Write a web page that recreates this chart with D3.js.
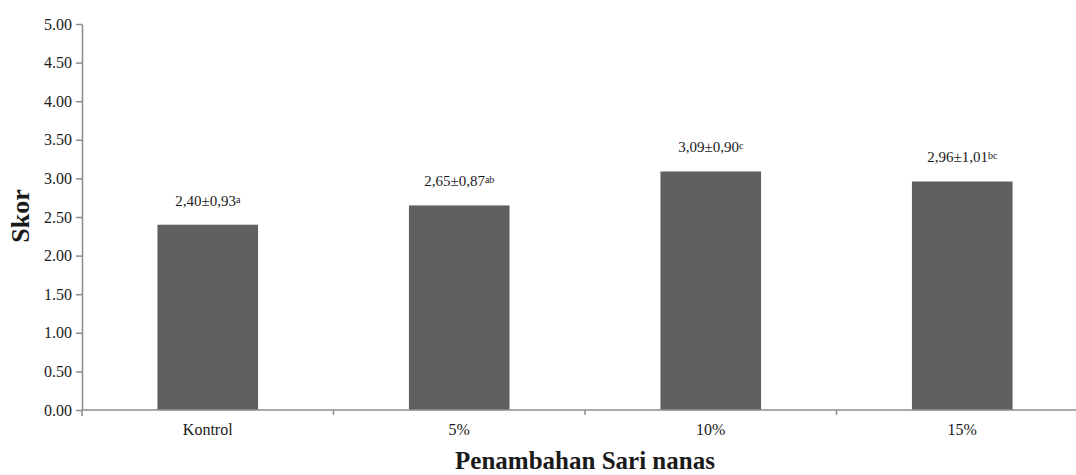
<!DOCTYPE html>
<html>
<head>
<meta charset="utf-8">
<script src="https://cdn.jsdelivr.net/npm/d3@7/dist/d3.min.js"></script>
<style>
  body { margin: 0; background: #fff; }
  svg text { font-family: "Liberation Serif", "Times New Roman", serif; fill: #1a1a1a; }
</style>
</head>
<body>
<div id="chart"></div>
<script>
// Data
const categories = ["Kontrol", "5%", "10%", "15%"];
const means = [2.40, 2.65, 3.09, 2.96];
const labels = ["2,40±0,93", "2,65±0,87", "3,09±0,90", "2,96±1,01"];
const letters = ["a", "ab", "c", "bc"];
const yTicks = [0, 0.5, 1, 1.5, 2, 2.5, 3, 3.5, 4, 4.5, 5];

const W = 1076, H = 475;
const margin = { top: 24, right: -12, bottom: 65, left: 82 };
const width = W - margin.left - margin.right;
const height = H - margin.top - margin.bottom;
const serif = "'Liberation Serif', 'Times New Roman', serif";
const axisColor = "#8c8c8c";

const svg = d3.select("#chart")
    .append("svg")
    .attr("width", W)
    .attr("height", H);

const g = svg.append("g")
    .attr("transform", `translate(${margin.left}, ${margin.top})`);

// Scales
const x = d3.scaleBand()
    .domain(categories)
    .range([0, width])
    .paddingInner(0.6)
    .paddingOuter(0.3);

const y = d3.scaleLinear()
    .domain([0, 5])
    .range([height, 0]);

// Bars
g.selectAll("rect")
    .data(categories)
    .join("rect")
    .attr("x", d => x(d))
    .attr("y", (d, i) => y(means[i]))
    .attr("width", x.bandwidth())
    .attr("height", (d, i) => height - y(means[i]))
    .attr("fill", "#606060");

// Y axis
const yAxis = g.append("g")
    .call(d3.axisLeft(y).tickValues(yTicks).tickFormat(d3.format(".2f")).tickSize(6).tickSizeOuter(0));
yAxis.attr("font-family", serif).attr("font-size", 16);
yAxis.select(".domain").attr("stroke", axisColor).attr("stroke-width", 1.5);
yAxis.selectAll(".tick line").attr("stroke", axisColor).attr("stroke-width", 1.5);
yAxis.selectAll(".tick text")
    .attr("x", -10)
    .attr("fill", "#1a1a1a");

// extend y axis line below zero
g.append("line")
    .attr("x1", 0).attr("x2", 0)
    .attr("y1", height).attr("y2", height + 6)
    .attr("stroke", axisColor).attr("stroke-width", 1.5);

// X axis with ticks between categories
const bandEdges = d3.range(categories.length + 1).map(i => i * width / categories.length);
g.append("line")
    .attr("x1", 0).attr("x2", width)
    .attr("y1", height).attr("y2", height)
    .attr("stroke", axisColor).attr("stroke-width", 1.5);
g.selectAll(".xtick")
    .data(bandEdges.slice(1))
    .join("line")
    .attr("class", "xtick")
    .attr("x1", d => d).attr("x2", d => d)
    .attr("y1", height).attr("y2", height + 5)
    .attr("stroke", axisColor).attr("stroke-width", 1.5);

g.selectAll(".xlabel")
    .data(categories)
    .join("text")
    .attr("class", "xlabel")
    .attr("x", d => x(d) + x.bandwidth() / 2)
    .attr("y", height + 25)
    .attr("text-anchor", "middle")
    .style("font-size", "16px")
    .text(d => d);

// Value labels with superscript letters
const vl = g.selectAll(".vlabel")
    .data(categories)
    .join("text")
    .attr("class", "vlabel")
    .attr("x", d => x(d) + x.bandwidth() / 2)
    .attr("y", (d, i) => y(means[i]) - 19)
    .attr("text-anchor", "middle")
    .style("font-size", "15px");
vl.append("tspan").text((d, i) => labels[i]);
vl.append("tspan")
    .attr("dy", -3)
    .style("font-size", "10px")
    .text((d, i) => letters[i]);

// Axis titles
svg.append("text")
    .attr("x", margin.left + width / 2)
    .attr("y", 469)
    .attr("text-anchor", "middle")
    .style("font-size", "25px")
    .style("font-weight", "bold")
    .text("Penambahan Sari nanas");

svg.append("text")
    .attr("transform", "translate(29, 216) rotate(-90)")
    .attr("text-anchor", "middle")
    .style("font-size", "26px")
    .style("font-weight", "bold")
    .text("Skor");
</script>
</body>
</html>
